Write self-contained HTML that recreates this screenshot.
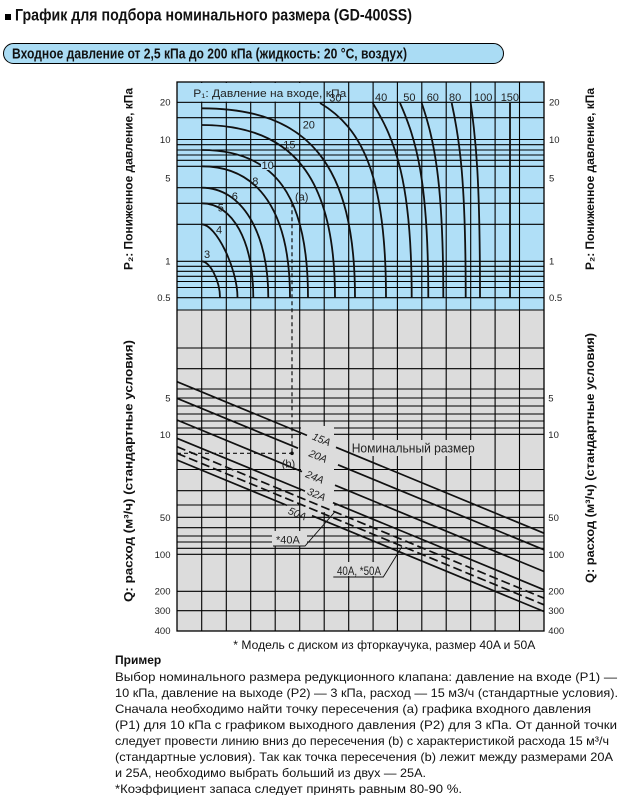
<!DOCTYPE html>
<html><head><meta charset="utf-8"><style>
html,body{margin:0;padding:0;background:#fff;overflow:hidden;}
svg{display:block;}
</style></head><body>
<svg width="627" height="795" viewBox="0 0 627 795" xmlns="http://www.w3.org/2000/svg" font-family="'Liberation Sans','DejaVu Sans',sans-serif">
<rect width="627" height="795" fill="#fff"/>
<!-- Title -->
<rect x="5" y="14" width="6" height="6" fill="#000"/>
<text x="15" y="20.5" font-size="17" font-weight="bold" fill="#111" textLength="397" lengthAdjust="spacingAndGlyphs">График для подбора номинального размера (GD-400SS)</text>
<rect x="3.5" y="43.5" width="500" height="20" rx="10" fill="#aadcf4" stroke="#000" stroke-width="1"/>
<text x="12" y="58.5" font-size="14.5" font-weight="bold" fill="#111" textLength="395" lengthAdjust="spacingAndGlyphs">Входное давление от 2,5 кПа до 200 кПа (жидкость: 20 °C, воздух)</text>

<!-- Chart backgrounds -->
<rect x="177" y="82" width="367" height="228" fill="#b0dff7"/>
<rect x="177" y="310" width="367" height="321" fill="#dcdcdc"/>

<!-- Grid -->
<g stroke="#000" stroke-width="1.1" fill="none">
<path d="M177 102.3H544M177 117.7H544M177 139.5H544M177 144.7H544M177 150H544M177 155H544M177 160.3H544M177 166.3H544M177 187.7H544M177 203.3H544M177 224.3H544M177 261.3H544M177 266.3H544M177 271.3H544M177 276.3H544M177 281.5H544M177 287.5H544M177 297.7H544M177 310H544"/>
<path d="M177 348H544M177 368.7H544M177 389H544M177 398H544M177 406H544M177 414H544M177 421H544M177 428H544M177 434.3H544M177 469.5H544M177 490.7H544M177 505H544M177 517.3H544M177 527.7H544M177 536H544M177 542H544M177 548.3H544M177 554.3H544M177 591.3H544M177 610.7H544"/>
<path d="M201.7 82V631M226.3 82V631M250.7 82V631M275.2 82V631M299.7 82V631M324.2 82V631M348.7 82V631M373.1 82V631M397.4 82V631M421.8 82V631M446.2 82V631M470.7 82V631M495.1 82V631M519.5 82V631"/>
</g>

<!-- Masks -->
<rect x="178" y="83" width="144" height="18.6" fill="#b0dff7"/>
<rect x="301" y="426" width="33" height="86" fill="#dcdcdc"/>
<rect x="350" y="440" width="127" height="16" fill="#dcdcdc"/>
<rect x="272" y="531" width="35" height="14.5" fill="#dcdcdc"/>
<rect x="334" y="562" width="50" height="14" fill="#dcdcdc"/>

<!-- P1 curves -->
<g stroke="#111" stroke-width="1.8" fill="none">
<path d="M201.7 261.3C210 261.3 220 281 220 297.7"/>
<path d="M201.7 224.3C216 224.3 237.5 268.5 237.5 297.7"/>
<path d="M201.7 203.3C232.7 203.3 253.3 241 253.3 297.7"/>
<path d="M201.7 187.7C241.7 187.7 268.3 232 268.3 297.7"/>
<path d="M201.7 166.3C259.1 166.3 290 212.5 290 297.7"/>
<path d="M201.7 150C275.1 150 308 195.7 308 297.7"/>
<path d="M201.7 125C293.7 125 335 178.5 335 297.7"/>
<path d="M201.7 108.3C309 108.3 355 164.7 355 297.7"/>
<path d="M320 103C362 128 386 175 386 297.7"/>
<path d="M372.7 103C395 140 411.7 180 411.7 297.7"/>
<path d="M400 103C416.3 140 428.3 180 428.3 297.7"/>
<path d="M421.7 103C434.1 140 443.3 180 443.3 297.7"/>
<path d="M451.7 103C459.7 140 465.7 180 465.7 297.7"/>
<path d="M470.7 103C476 140 480 180 480 297.7"/>
<path d="M510 103V297.7"/>
</g>

<!-- Flow lines -->
<g stroke="#111" stroke-width="1.7" fill="none">
<path d="M177 381.7L307 435.4M336 447.3L544 533.2"/>
<path d="M177 398.3L298 448.2M338 464.8L544 549.8"/>
<path d="M177 420L302 471.6M335 485.2L544 571.5"/>
<path d="M177 438.3L305 491.1M333 502.7L544 589.8"/>
<path d="M177 460L287 505.4M312 515.7L544 611.5"/>
<path d="M177 446.7L544 598.2" stroke-dasharray="9 4"/>
<path d="M177 453.3L544 604.8" stroke-dasharray="9 4"/>
</g>

<!-- Example guide lines -->
<g stroke="#111" stroke-width="1.2" fill="none" stroke-dasharray="4 3">
<path d="M292 203.3V453.3"/>
<path d="M177 453.3H292"/>
</g>
<circle cx="292" cy="453.3" r="1.8" fill="#111"/>

<!-- Leaders -->
<g stroke="#111" stroke-width="0.9" fill="none">
<path d="M273 546H305L335 511.7"/>
<path d="M333.3 577H383.3L402 546.5"/>
</g>

<!-- Frame -->
<rect x="177" y="82" width="367" height="549" fill="none" stroke="#000" stroke-width="1.3"/>

<!-- Top curve labels -->
<rect x="261" y="162" width="11.5" height="8" fill="#b0dff7"/>
<g font-size="11" fill="#222">
<text x="193.3" y="97" textLength="153" lengthAdjust="spacingAndGlyphs">P₁: Давление на входе, кПа</text>
<text x="204" y="258">3</text>
<text x="216" y="233.3">4</text>
<text x="217.7" y="211.5">5</text>
<text x="231.7" y="200">6</text>
<text x="252.3" y="185">8</text>
<text x="261.5" y="169">10</text>
<text x="283.3" y="148.3">15</text>
<text x="302.7" y="128.3">20</text>
<text x="329.3" y="101.5">30</text>
<text x="375" y="101">40</text>
<text x="403.3" y="101">50</text>
<text x="426.7" y="101">60</text>
<text x="449" y="101">80</text>
<text x="474" y="101">100</text>
<text x="500.7" y="101">150</text>
<text x="295" y="200.5">(a)</text>
<text x="281.7" y="467.5">(b)</text>
</g>

<!-- Size labels -->
<g font-size="10.5" font-style="italic" fill="#222" text-anchor="middle">
<text transform="translate(321.7,439) rotate(22.4)" dy="4">15A</text>
<text transform="translate(318.3,455.8) rotate(22.4)" dy="4">20A</text>
<text transform="translate(315,476.7) rotate(22.4)" dy="4">24A</text>
<text transform="translate(316.7,494) rotate(22.4)" dy="4">32A</text>
<text transform="translate(297.5,513.3) rotate(22.4)" dy="4">50A</text>
</g>
<g font-size="11" fill="#222">
<text x="351.7" y="452.5" font-size="12.5" textLength="123" lengthAdjust="spacingAndGlyphs">Номинальный размер</text>
<text x="276" y="543.5">*40A</text>
<text x="337" y="575" font-size="11.5" textLength="44" lengthAdjust="spacingAndGlyphs">40A, *50A</text>
</g>

<!-- Tick labels -->
<g font-size="9.5" fill="#222" text-anchor="end">
<text x="170.5" y="105.5">20</text>
<text x="170.5" y="142.8">10</text>
<text x="170.5" y="181.5">5</text>
<text x="170.5" y="264.6">1</text>
<text x="170.5" y="301">0.5</text>
<text x="170.5" y="401.5">5</text>
<text x="170.5" y="438">10</text>
<text x="170.5" y="520.8">50</text>
<text x="170.5" y="557.8">100</text>
<text x="170.5" y="594.5">200</text>
<text x="170.5" y="614">300</text>
<text x="170.5" y="634">400</text>
</g>
<g font-size="9.5" fill="#222">
<text x="549" y="105.5">20</text>
<text x="549" y="142.8">10</text>
<text x="549" y="181.5">5</text>
<text x="549" y="264.6">1</text>
<text x="549" y="301">0.5</text>
<text x="548.3" y="401.5">5</text>
<text x="548.3" y="438">10</text>
<text x="548.3" y="520.8">50</text>
<text x="548.3" y="557.8">100</text>
<text x="548.3" y="594.5">200</text>
<text x="548.3" y="614">300</text>
<text x="548.3" y="634">400</text>
</g>

<!-- Axis titles -->
<g font-size="12" font-weight="bold" fill="#111" text-anchor="middle">
<text transform="translate(132.3,179) rotate(-90)" textLength="182" lengthAdjust="spacingAndGlyphs">P₂: Пониженное давление, кПа</text>
<text transform="translate(594,179) rotate(-90)" textLength="182" lengthAdjust="spacingAndGlyphs">P₂: Пониженное давление, кПа</text>
<text transform="translate(132.3,471) rotate(-90)" textLength="262" lengthAdjust="spacingAndGlyphs">Q: расход (м³/ч) (стандартные условия)</text>
<text transform="translate(594,458) rotate(-90)" textLength="250" lengthAdjust="spacingAndGlyphs">Q: расход (м³/ч) (стандартные условия)</text>
</g>

<!-- Footnote -->
<text x="233.3" y="649" font-size="12" fill="#111" textLength="302" lengthAdjust="spacingAndGlyphs">* Модель с диском из фторкаучука, размер 40A и 50A</text>

<!-- Example text -->
<g font-size="12" fill="#111">
<text x="115" y="664" font-weight="bold">Пример</text>
<text x="115" y="681" textLength="502" lengthAdjust="spacingAndGlyphs">Выбор номинального размера редукционного клапана: давление на входе (P1) —</text>
<text x="115" y="697" textLength="503" lengthAdjust="spacingAndGlyphs">10 кПа, давление на выходе (P2) — 3 кПа, расход — 15 м3/ч (стандартные условия).</text>
<text x="115" y="713" textLength="476" lengthAdjust="spacingAndGlyphs">Сначала необходимо найти точку пересечения (a) графика входного давления</text>
<text x="115" y="729" textLength="502" lengthAdjust="spacingAndGlyphs">(P1) для 10 кПа с графиком выходного давления (P2) для 3 кПа. От данной точки</text>
<text x="115" y="745" textLength="494" lengthAdjust="spacingAndGlyphs">следует провести линию вниз до пересечения (b) с характеристикой расхода 15 м³/ч</text>
<text x="115" y="761" textLength="498" lengthAdjust="spacingAndGlyphs">(стандартные условия). Так как точка пересечения (b) лежит между размерами 20A</text>
<text x="115" y="777" textLength="311" lengthAdjust="spacingAndGlyphs">и 25A, необходимо выбрать больший из двух — 25A.</text>
<text x="115" y="793" textLength="347" lengthAdjust="spacingAndGlyphs">*Коэффициент запаса следует принять равным 80-90 %.</text>
</g>
</svg>
</body></html>
